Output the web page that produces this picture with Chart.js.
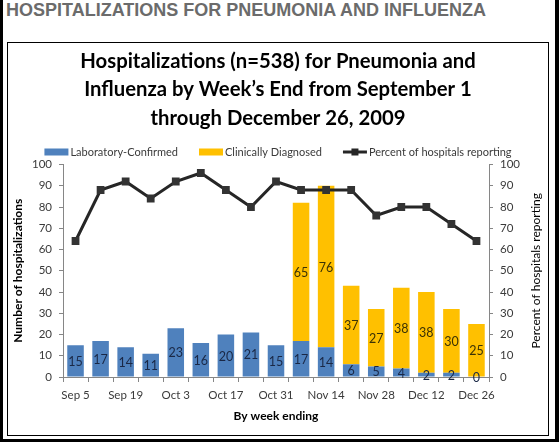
<!DOCTYPE html>
<html>
<head>
<meta charset="utf-8">
<script src="https://cdn.jsdelivr.net/npm/chart.js@4.4.1/dist/chart.umd.min.js"></script>
<style>
  html, body { margin: 0; padding: 0; background: #000; }
  #page { position: relative; width: 559px; height: 442px; background: #000; overflow: hidden; }
  #sheet { position: absolute; left: 3px; top: 0; width: 552px; height: 439px; background: #fff; }
  #header {
    position: absolute; left: 6px; top: 0px;
    font-family: 'Liberation Sans', Arial, sans-serif; font-weight: bold; font-size: 18px;
    color: #6b6b6b; white-space: nowrap;
  }
  #frame { position: absolute; left: 7px; top: 42px; width: 540px; height: 392px; border: 1px solid #000; background: #fff; }
  #chart { display: block; }
</style>
</head>
<body>
<div id="page">
  <div id="sheet"></div>
  <div id="header">HOSPITALIZATIONS FOR PNEUMONIA AND INFLUENZA</div>
  <div id="frame"><canvas id="chart" width="540" height="392" style="width:540px;height:392px"></canvas></div>
</div>
<script>
const weeks = ['Sep 5', 'Sep 12', 'Sep 19', 'Sep 26', 'Oct 3', 'Oct 10', 'Oct 17', 'Oct 24', 'Oct 31',
               'Nov 7', 'Nov 14', 'Nov 21', 'Nov 28', 'Dec 5', 'Dec 12', 'Dec 19', 'Dec 26'];
const labConfirmed = [15, 17, 14, 11, 23, 16, 20, 21, 15, 17, 14, 6, 5, 4, 2, 2, 0];
const clinicallyDiagnosed = [0, 0, 0, 0, 0, 0, 0, 0, 0, 65, 76, 37, 27, 38, 38, 30, 25];
const percentReporting = [64, 88, 92, 84, 92, 96, 88, 80, 92, 88, 88, 88, 76, 80, 80, 72, 64];
const yTicks = [0, 10, 20, 30, 40, 50, 60, 70, 80, 90, 100];

const titleLines = ['Hospitalizations (n=538) for Pneumonia and',
                    'Influenza by Week\u2019s End from September 1',
                    'through December 26, 2009'];

const AXIS_GREY = '#868686';
const TEXT_DARK = '#3a3a3a';
const FONT = 'Lato';

Chart.defaults.font.family = FONT;
Chart.defaults.color = TEXT_DARK;

// numbers inside the bar segments
const barLabels = {
    id: 'barLabels',
    afterDatasetsDraw(chart) {
        const ctx = chart.ctx;
        ctx.save();
        ctx.font = '12.5px ' + FONT;
        ctx.textAlign = 'center';
        ctx.textBaseline = 'middle';
        chart.data.datasets.forEach((ds, i) => {
            if (ds.type === 'line') return;
            const meta = chart.getDatasetMeta(i);
            meta.data.forEach((bar, j) => {
                const v = ds.data[j];
                if (i === 1 && v === 0) return;
                ctx.fillStyle = i === 0 ? '#1a2846' : '#3b3205';
                ctx.fillText(String(v), bar.x, (bar.y + bar.base) / 2 + 1);
            });
        });
        ctx.restore();
    }
};

// legend row and right axis title (drawn bottom-to-top like the left one)
const extras = {
    id: 'extras',
    afterDraw(chart) {
        const ctx = chart.ctx;
        ctx.save();
        ctx.font = '11px ' + FONT;
        ctx.textBaseline = 'middle';
        const items = chart.data.datasets.map(ds => ({ ds, w: 26 + ctx.measureText(ds.label).width }));
        const gap = 21;
        const total = items.reduce((s, it) => s + it.w, 0) + gap * (items.length - 1);
        let x = chart.width / 2 - total / 2;
        const y = 109;
        items.forEach(it => {
            const ds = it.ds;
            if (ds.type === 'line') {
                ctx.strokeStyle = ds.borderColor;
                ctx.lineWidth = 3;
                ctx.beginPath();
                ctx.moveTo(x, y);
                ctx.lineTo(x + 24, y);
                ctx.stroke();
                ctx.fillStyle = ds.borderColor;
                ctx.fillRect(x + 12 - 3.5, y - 3.5, 7, 7);
            } else {
                ctx.fillStyle = ds.backgroundColor;
                ctx.fillRect(x, y - 3.5, 24, 7);
            }
            ctx.fillStyle = TEXT_DARK;
            ctx.textAlign = 'left';
            ctx.fillText(ds.label, x + 26, y + 0.5);
            x += it.w + gap;
        });

        const a = chart.chartArea;
        ctx.font = '12px ' + FONT;
        ctx.fillStyle = '#000';
        ctx.translate(528, (a.top + a.bottom) / 2);
        ctx.rotate(-Math.PI / 2);
        ctx.textAlign = 'center';
        ctx.fillText('Percent of hospitals reporting', 0, 0);
        ctx.restore();
    }
};

const ctx = document.getElementById('chart').getContext('2d');

new Chart(ctx, {
    type: 'bar',
    data: {
        labels: weeks,
        datasets: [
            {
                label: 'Laboratory-Confirmed',
                data: labConfirmed,
                backgroundColor: '#4f81bd',
                yAxisID: 'y',
                order: 1,
                barPercentage: 0.66,
                categoryPercentage: 1
            },
            {
                label: 'Clinically Diagnosed',
                data: clinicallyDiagnosed,
                backgroundColor: '#ffc000',
                yAxisID: 'y',
                order: 1,
                barPercentage: 0.66,
                categoryPercentage: 1
            },
            {
                type: 'line',
                label: 'Percent of hospitals reporting',
                data: percentReporting,
                yAxisID: 'y2',
                borderColor: '#262626',
                backgroundColor: '#262626',
                borderWidth: 3,
                pointStyle: 'rect',
                pointRadius: 5.5,
                pointBackgroundColor: '#333333',
                pointBorderWidth: 0,
                tension: 0,
                order: 0
            }
        ]
    },
    options: {
        responsive: false,
        animation: false,
        layout: { padding: 0 },
        plugins: {
            legend: { display: false },
            tooltip: { enabled: false },
            title: {
                display: true,
                text: titleLines,
                color: '#000',
                font: { family: FONT, size: 20.3, weight: 'bold', lineHeight: 28.5 / 20.3 },
                padding: { top: 4, bottom: 32 }
            }
        },
        scales: {
            x: {
                stacked: true,
                grid: { display: true, drawOnChartArea: false, drawTicks: true, tickLength: 5, color: AXIS_GREY, offset: true },
                border: { display: true, color: AXIS_GREY },
                ticks: {
                    autoSkip: false,
                    maxRotation: 0,
                    padding: 6,
                    color: TEXT_DARK,
                    font: { size: 11.5 },
                    callback: function(value, index) { return index % 2 === 0 ? weeks[index] : ''; }
                },
                title: {
                    display: true,
                    text: 'By week ending',
                    color: '#000',
                    font: { size: 12, weight: 'bold' },
                    padding: { top: 4, bottom: 12 }
                },
                afterFit: function(scale) { scale.height = 58; }
            },
            y: {
                stacked: true,
                position: 'left',
                min: 0,
                max: 100,
                afterBuildTicks: function(scale) { scale.ticks = yTicks.map(v => ({ value: v })); },
                grid: { display: true, drawOnChartArea: false, drawTicks: true, tickLength: 4, color: AXIS_GREY },
                border: { display: true, color: AXIS_GREY },
                ticks: { padding: 7, color: TEXT_DARK, font: { size: 11.5 } },
                title: {
                    display: true,
                    text: 'Number of hospitalizations',
                    color: '#000',
                    font: { size: 12, weight: 'bold' },
                    padding: { top: 3 }
                },
                afterFit: function(scale) { scale.width = 55; }
            },
            y2: {
                position: 'right',
                min: 0,
                max: 100,
                afterBuildTicks: function(scale) { scale.ticks = yTicks.map(v => ({ value: v })); },
                grid: { display: true, drawOnChartArea: false, drawTicks: true, tickLength: 4, color: AXIS_GREY },
                border: { display: true, color: AXIS_GREY },
                ticks: { padding: 7, color: TEXT_DARK, font: { size: 11.5 } },
                afterFit: function(scale) { scale.width = 59; }
            }
        }
    },
    plugins: [barLabels, extras]
});
</script>
</body>
</html>
